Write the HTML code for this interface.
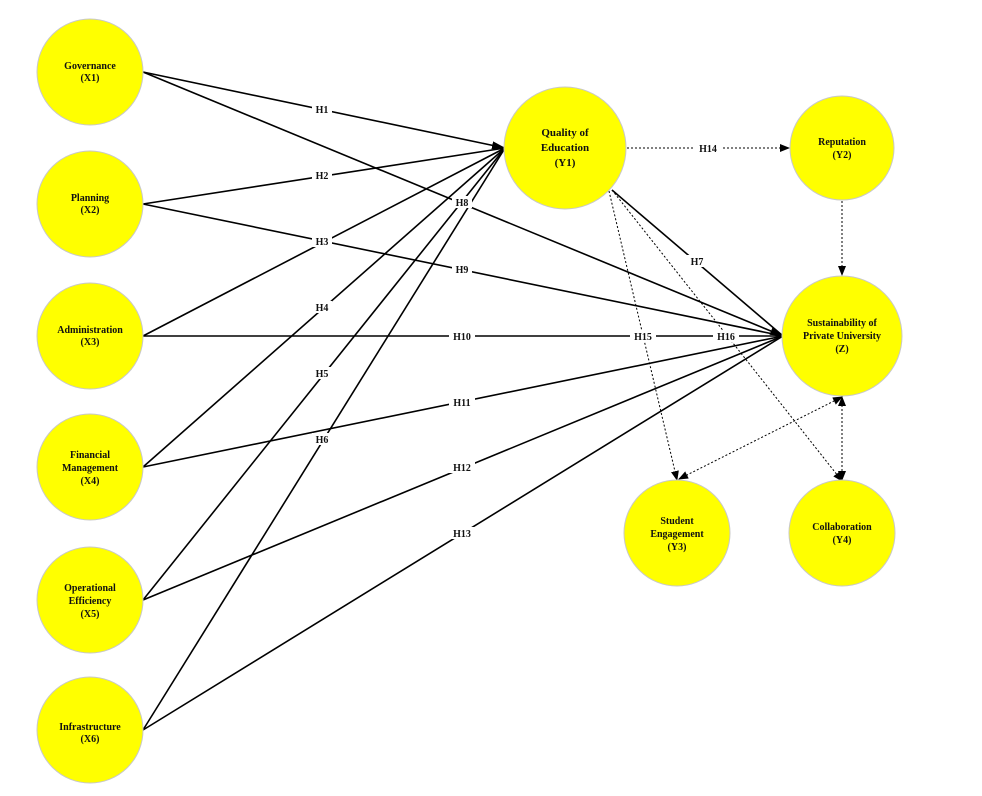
<!DOCTYPE html>
<html><head><meta charset="utf-8"><style>
body{margin:0;background:#fff;}
svg text{font-family:"Liberation Serif",serif;font-weight:bold;fill:#111;}
</style></head><body>
<svg width="982" height="791" viewBox="0 0 982 791" xmlns="http://www.w3.org/2000/svg">
<defs>
<marker id="a" markerWidth="10" markerHeight="10" refX="9" refY="5" orient="auto" markerUnits="userSpaceOnUse"><path d="M0,1 L10,5 L0,9 z" fill="#000"/></marker>
<marker id="b" markerWidth="14" markerHeight="14" refX="13" refY="7" orient="auto" markerUnits="userSpaceOnUse"><path d="M0,3 L14,7 L0,11 z" fill="#000"/></marker>
<marker id="s" markerWidth="10" markerHeight="10" refX="1" refY="5" orient="auto" markerUnits="userSpaceOnUse"><path d="M10,1 L0,5 L10,9 z" fill="#000"/></marker>
</defs>
<g stroke="#000" stroke-width="1.6" fill="none">
<line x1="143" y1="72" x2="505" y2="148" marker-end="url(#b)"/>
<line x1="143" y1="72" x2="783" y2="336" marker-end="url(#b)"/>
<line x1="143" y1="204" x2="505" y2="148"/>
<line x1="143" y1="204" x2="783" y2="336"/>
<line x1="143" y1="336" x2="505" y2="148"/>
<line x1="143" y1="336" x2="783" y2="336"/>
<line x1="143" y1="467" x2="505" y2="148"/>
<line x1="143" y1="467" x2="783" y2="336"/>
<line x1="143" y1="600" x2="505" y2="148"/>
<line x1="143" y1="600" x2="783" y2="336"/>
<line x1="143" y1="730" x2="505" y2="148"/>
<line x1="143" y1="730" x2="783" y2="336"/>
<line x1="612" y1="190" x2="783" y2="336"/>
</g>
<g stroke="#000" stroke-width="1" fill="none" stroke-dasharray="2,2">
<line x1="627" y1="148" x2="789" y2="148" marker-end="url(#a)"/>
<line x1="609" y1="191" x2="677" y2="480" marker-end="url(#a)"/>
<line x1="612" y1="190" x2="842" y2="481" marker-end="url(#a)"/>
<line x1="842" y1="201" x2="842" y2="275" marker-end="url(#a)"/>
<line x1="679" y1="479" x2="842" y2="397" marker-end="url(#a)" marker-start="url(#s)"/>
<line x1="842" y1="397" x2="842" y2="480" marker-end="url(#a)" marker-start="url(#s)"/>
</g>
<g fill="#ffff00" stroke="#c8c8c8" stroke-width="1">
<circle cx="90" cy="72" r="53"/>
<circle cx="90" cy="204" r="53"/>
<circle cx="90" cy="336" r="53"/>
<circle cx="90" cy="467" r="53"/>
<circle cx="90" cy="600" r="53"/>
<circle cx="90" cy="730" r="53"/>
<circle cx="565" cy="148" r="61"/>
<circle cx="842" cy="148" r="52"/>
<circle cx="842" cy="336" r="60"/>
<circle cx="677" cy="533" r="53"/>
<circle cx="842" cy="533" r="53"/>
</g>
<g font-size="10" text-anchor="middle">
<text x="90" y="69">Governance</text><text x="90" y="81">(X1)</text>
<text x="90" y="201">Planning</text><text x="90" y="213">(X2)</text>
<text x="90" y="333">Administration</text><text x="90" y="345">(X3)</text>
<text x="90" y="458">Financial</text><text x="90" y="471">Management</text><text x="90" y="484">(X4)</text>
<text x="90" y="591">Operational</text><text x="90" y="604">Efficiency</text><text x="90" y="617">(X5)</text>
<text x="90" y="730">Infrastructure</text><text x="90" y="742">(X6)</text>
<text x="565" y="136" font-size="11">Quality of</text><text x="565" y="151" font-size="11">Education</text><text x="565" y="166" font-size="11">(Y1)</text>
<text x="842" y="145">Reputation</text><text x="842" y="158">(Y2)</text>
<text x="842" y="326">Sustainability of</text><text x="842" y="339">Private University</text><text x="842" y="352">(Z)</text>
<text x="677" y="524">Student</text><text x="677" y="537">Engagement</text><text x="677" y="550">(Y3)</text>
<text x="842" y="530">Collaboration</text><text x="842" y="543">(Y4)</text>
</g>
<g font-size="10" text-anchor="middle">
<g fill="#fff" stroke="none">
<rect x="312" y="103" width="20" height="12"/><rect x="312" y="169" width="20" height="12"/>
<rect x="312" y="235" width="20" height="12"/><rect x="312" y="301" width="20" height="12"/>
<rect x="312" y="367" width="20" height="12"/><rect x="312" y="433" width="20" height="12"/>
<rect x="687" y="255" width="20" height="12"/><rect x="452" y="196" width="20" height="12"/>
<rect x="452" y="263" width="20" height="12"/><rect x="449" y="330" width="26" height="12"/>
<rect x="449" y="396" width="26" height="12"/><rect x="449" y="461" width="26" height="12"/>
<rect x="449" y="527" width="26" height="12"/><rect x="695" y="142" width="26" height="12"/>
<rect x="630" y="330" width="26" height="12"/><rect x="713" y="330" width="26" height="12"/>
</g>
<text x="322" y="113">H1</text><text x="322" y="179">H2</text><text x="322" y="245">H3</text>
<text x="322" y="311">H4</text><text x="322" y="377">H5</text><text x="322" y="443">H6</text>
<text x="697" y="265">H7</text><text x="462" y="206">H8</text><text x="462" y="273">H9</text>
<text x="462" y="340">H10</text><text x="462" y="406">H11</text><text x="462" y="471">H12</text>
<text x="462" y="537">H13</text><text x="708" y="152">H14</text>
<text x="643" y="340">H15</text><text x="726" y="340">H16</text>
</g>
</svg>
</body></html>
